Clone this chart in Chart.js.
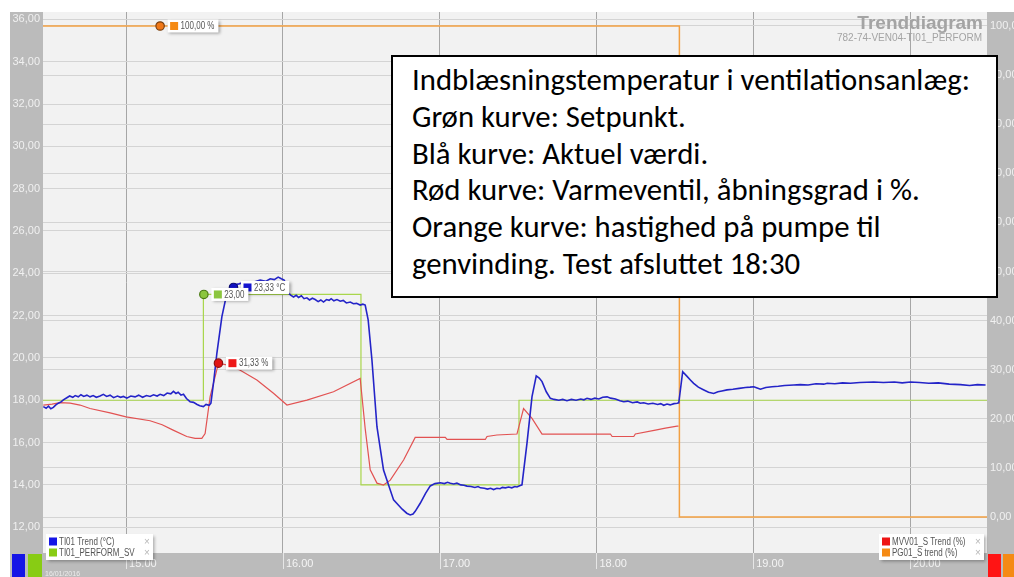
<!DOCTYPE html>
<html>
<head>
<meta charset="utf-8">
<title>Trenddiagram</title>
<script src="https://cdn.jsdelivr.net/npm/chart.js@4.4.1/dist/chart.umd.min.js"></script>
<style>
  html, body { margin: 0; padding: 0; background: #fff; }
  #wrap { position: relative; width: 1014px; height: 577px; }
  #note {
    position: absolute; left: 391px; top: 55px; width: 607px; height: 243px;
    box-sizing: border-box; border: 2px solid #000; background: #fff; color: #000;
    font-family: "Carlito", "Open Sans", sans-serif; line-height: 36.8px;
    padding: 5px 0 0 19px; white-space: nowrap;
  }
</style>
</head>
<body>
<div id="wrap">
  <canvas id="trend" width="1014" height="577"></canvas>
  <div id="note"></div>
</div>
<script>
// axis ticks
const timeTicks = [15, 16, 17, 18, 19, 20];
const tempTicks = [12, 14, 16, 18, 20, 22, 24, 26, 28, 30, 32, 34, 36];
const pctTicks = [0, 10, 20, 30, 40, 50, 60, 70, 80, 90, 100];

// TI01 Trend (°C) - actual supply temperature (hours, °C)
const tempTimes = [14.472, 14.490, 14.505, 14.520, 14.536, 14.552, 14.568, 14.585, 14.600, 14.622,
  14.640, 14.660, 14.675, 14.695, 14.712, 14.730, 14.750, 14.770, 14.790, 14.810,
  14.834, 14.855, 14.876, 14.898, 14.920, 14.945, 14.965, 14.983, 15.005, 15.030,
  15.057, 15.080, 15.105, 15.130, 15.153, 15.175, 15.198, 15.217, 15.240, 15.262,
  15.285, 15.302, 15.318, 15.332, 15.350, 15.366, 15.385, 15.408, 15.430, 15.453,
  15.470, 15.493, 15.510, 15.530, 15.541, 15.559, 15.579, 15.611, 15.643, 15.685,
  15.720, 15.759, 15.800, 15.855, 15.890, 15.919, 15.945, 15.970, 15.990, 16.008,
  16.020, 16.036, 16.052, 16.068, 16.085, 16.100, 16.118, 16.135, 16.153, 16.170,
  16.188, 16.206, 16.225, 16.242, 16.259, 16.278, 16.295, 16.308, 16.325, 16.345,
  16.366, 16.385, 16.405, 16.430, 16.450, 16.470, 16.493, 16.510, 16.525, 16.544,
  16.568, 16.600, 16.642, 16.706, 16.761, 16.790, 16.812, 16.830, 16.844, 16.876,
  16.910, 16.940, 16.970, 17.004, 17.030, 17.050, 17.068, 17.090, 17.110, 17.135,
  17.155, 17.174, 17.200, 17.225, 17.245, 17.260, 17.285, 17.305, 17.325, 17.344,
  17.365, 17.385, 17.400, 17.419, 17.440, 17.460, 17.480, 17.493, 17.510, 17.525,
  17.557, 17.589, 17.616, 17.635, 17.653, 17.680, 17.706, 17.730, 17.760, 17.785,
  17.812, 17.840, 17.870, 17.900, 17.920, 17.940, 17.965, 17.990, 18.015, 18.040,
  18.068, 18.090, 18.121, 18.150, 18.174, 18.200, 18.230, 18.260, 18.280, 18.301,
  18.330, 18.360, 18.390, 18.410, 18.429, 18.450, 18.470, 18.495, 18.515, 18.525,
  18.550, 18.575, 18.599, 18.620, 18.650, 18.682, 18.715, 18.748, 18.775, 18.800,
  18.833, 18.870, 18.910, 18.950, 18.980, 19.004, 19.025, 19.046, 19.080, 19.120,
  19.160, 19.200, 19.258, 19.300, 19.350, 19.400, 19.450, 19.472, 19.520, 19.570,
  19.620, 19.680, 19.769, 19.830, 19.900, 19.950, 20.003, 20.060, 20.120, 20.180,
  20.250, 20.322, 20.380, 20.430, 20.482];
const tempValues = [17.70, 17.62, 17.72, 17.60, 17.66, 17.78, 17.86, 17.92, 18.02, 18.12,
  18.20, 18.14, 18.22, 18.16, 18.26, 18.18, 18.24, 18.16, 18.22, 18.14,
  18.20, 18.28, 18.18, 18.24, 18.12, 18.20, 18.14, 18.18, 18.10, 18.20,
  18.16, 18.24, 18.14, 18.22, 18.18, 18.26, 18.20, 18.28, 18.22, 18.34,
  18.30, 18.42, 18.32, 18.38, 18.24, 18.28, 18.08, 17.93, 17.90, 17.80,
  17.74, 17.70, 17.80, 17.76, 17.86, 18.90, 20.22, 21.95, 23.06, 23.45,
  23.50, 23.58, 23.55, 23.68, 23.62, 23.74, 23.70, 23.82, 23.74, 23.68,
  23.50, 23.06, 22.96, 22.88, 22.96, 22.86, 22.94, 22.80, 22.84, 22.74,
  22.82, 22.76, 22.66, 22.74, 22.64, 22.76, 22.72, 22.80, 22.70, 22.76,
  22.68, 22.72, 22.60, 22.64, 22.56, 22.58, 22.50, 22.54, 22.50, 21.80,
  19.90, 16.75, 14.70, 13.29, 12.85, 12.66, 12.58, 12.62, 12.75, 13.13,
  13.60, 13.95, 14.06, 14.10, 14.06, 14.12, 14.08, 14.04, 14.08, 14.00,
  13.98, 13.94, 13.92, 13.88, 13.92, 13.86, 13.84, 13.80, 13.84, 13.78,
  13.84, 13.82, 13.88, 13.86, 13.90, 13.86, 13.92, 13.90, 13.96, 14.00,
  15.97, 18.17, 19.15, 19.05, 18.88, 18.40, 18.09, 18.04, 18.00, 18.04,
  17.98, 18.04, 18.00, 18.06, 18.02, 18.09, 18.04, 18.10, 18.06, 18.14,
  18.16, 18.10, 18.06, 17.98, 17.93, 17.96, 17.88, 17.92, 17.86, 17.88,
  17.82, 17.86, 17.80, 17.84, 17.76, 17.82, 17.78, 17.84, 17.86, 17.88,
  19.35, 19.15, 18.96, 18.80, 18.62, 18.50, 18.38, 18.32, 18.40, 18.44,
  18.49, 18.52, 18.56, 18.60, 18.62, 18.64, 18.58, 18.52, 18.60, 18.64,
  18.66, 18.70, 18.72, 18.74, 18.72, 18.78, 18.76, 18.80, 18.78, 18.82,
  18.80, 18.84, 18.86, 18.84, 18.86, 18.82, 18.86, 18.84, 18.80, 18.82,
  18.76, 18.74, 18.70, 18.74, 18.72];

// TI01_PERFORM_SV (°C) - setpoint
const setTimes = [14.47, 15.493, 15.493, 16.498, 16.498, 17.506, 17.506, 20.491];
const setValues = [18, 18, 23, 23, 14, 14, 18, 18];

// MVV01_S Trend (%) - heating valve opening
const valveTimes = [14.472, 14.528, 14.579, 14.643, 14.706, 14.770, 14.898, 15.000, 15.153, 15.230,
  15.300, 15.387, 15.440, 15.483, 15.504, 15.536, 15.589, 15.643, 15.728, 15.834,
  15.940, 16.026, 16.153, 16.323, 16.493, 16.525, 16.557, 16.600, 16.642, 16.685,
  16.770, 16.844, 17.036, 17.047, 17.291, 17.302, 17.365, 17.493, 17.535, 17.589,
  17.653, 18.089, 18.100, 18.238, 18.248, 18.376, 18.440, 18.514, 18.523];
const valveValues = [22.8, 23.0, 23.3, 23.2, 22.8, 22.1, 21.2, 20.4, 19.6, 18.8,
  17.7, 16.4, 16.0, 16.0, 17.0, 24.5, 31.3, 31.0, 29.9, 27.9,
  25.2, 22.8, 23.8, 25.5, 28.2, 18.0, 9.6, 6.9, 6.5, 7.5,
  11.6, 16.2, 16.2, 15.8, 15.8, 16.4, 16.7, 16.9, 22.1, 20.1,
  16.9, 16.9, 16.4, 16.4, 16.9, 17.7, 18.1, 18.5, 18.5];

// PG01_S trend (%) - pump speed
const pumpTimes = [14.47, 18.529, 18.529, 20.491];
const pumpValues = [100, 100, 0, 0];

// cursor markers: pump, setpoint, actual, valve
const markerTimes = [15.217, 15.496, 15.685, 15.589];
const markerValues = [100, 23, 23.33, 31.33];
const markerLabels = ['100,00 %', '23,00', '23,33 °C', '31,33 %'];

const noteLines = [
  'Indblæsningstemperatur i ventilationsanlæg:',
  'Grøn kurve: Setpunkt.',
  'Blå kurve: Aktuel værdi.',
  'Rød kurve: Varmeventil, åbningsgrad i %.',
  'Orange kurve: hastighed på pumpe til',
  'genvinding. Test afsluttet 18:30'
];

const BLUE = '#2424c8', GREEN = '#a9d64c', RED = '#e25252', ORANGE = '#f2a042';
const UI_FONT = '"Liberation Sans", Arial, sans-serif';

function pts(xs, ys) {
  return xs.map((x, i) => ({ x: x, y: ys[i] }));
}
function comma(v) {
  return v.toFixed(2).replace('.', ',');
}

// note box, sized to the original text width
const note = document.getElementById('note');
note.innerHTML = noteLines.map(l => '<div>' + l + '</div>').join('');
const mctx = document.createElement('canvas').getContext('2d');
mctx.font = '100px "Carlito", "Open Sans", sans-serif';
note.style.fontSize = (100 * 558 / mctx.measureText(noteLines[0]).width).toFixed(2) + 'px';

function squeezeText(ctx, text, x, y, ratio) {
  ctx.fillText(text, x, y, ctx.measureText(text).width * ratio);
}

function tag(ctx, x, y, color, text) {
  ctx.save();
  ctx.font = '10px ' + UI_FONT;
  const tw = ctx.measureText(text).width * 0.8;
  const w = 2.5 + 8 + 2.5 + tw + 4;
  ctx.shadowColor = 'rgba(0,0,0,0.35)';
  ctx.shadowBlur = 3;
  ctx.shadowOffsetX = 1.5;
  ctx.shadowOffsetY = 1.5;
  ctx.fillStyle = '#fff';
  ctx.fillRect(x, y - 6.5, w, 13);
  ctx.shadowColor = 'transparent';
  ctx.fillStyle = color;
  ctx.fillRect(x + 2.5, y - 4, 8, 8);
  ctx.fillStyle = '#555';
  ctx.textBaseline = 'middle';
  squeezeText(ctx, text, x + 13, y + 0.5, 0.8);
  ctx.restore();
}

function legendBox(ctx, x, y, w, rows) {
  ctx.save();
  ctx.shadowColor = 'rgba(0,0,0,0.3)';
  ctx.shadowBlur = 3;
  ctx.shadowOffsetX = 1.5;
  ctx.shadowOffsetY = 1.5;
  ctx.fillStyle = '#fff';
  ctx.fillRect(x, y, w, 26);
  ctx.shadowColor = 'transparent';
  ctx.font = '10px ' + UI_FONT;
  ctx.textBaseline = 'middle';
  rows.forEach((r, i) => {
    const cy = y + 7.5 + i * 11;
    ctx.fillStyle = r[0];
    ctx.fillRect(x + 3, cy - 4, 8, 8);
    ctx.fillStyle = '#555';
    squeezeText(ctx, r[1], x + 13, cy + 0.5, 0.8);
    ctx.fillStyle = '#b8b8b8';
    ctx.fillText('×', x + w - 9, cy + 0.5);
  });
  ctx.restore();
}

const frame = {
  id: 'frame',
  beforeDraw(chart) {
    const { ctx, chartArea: a, width, height } = chart;
    ctx.save();
    ctx.fillStyle = '#fff';
    ctx.fillRect(0, 0, width, height);
    ctx.fillStyle = '#bbbbbb';
    ctx.fillRect(10, 12, width - 10, height - 12);
    ctx.fillStyle = '#f2f2f2';
    ctx.fillRect(a.left, a.top, a.right - a.left, a.bottom - a.top);
    ctx.restore();
  },
  afterDatasetsDraw(chart) {
    const { ctx, scales } = chart;
    const axes = ['yP', 'yT', 'yT', 'yP'];
    const colors = ['#f58a14', '#8cc63f', '#1414d0', '#ee1818'];
    [0, 3, 2, 1].forEach(i => {
      const x = scales.x.getPixelForValue(markerTimes[i]);
      const y = scales[axes[i]].getPixelForValue(markerValues[i]);
      tag(ctx, x + 7.5, y, colors[i], markerLabels[i]);
    });
  },
  afterDraw(chart) {
    const { ctx, scales, chartArea: a, height } = chart;
    ctx.save();
    // x tick marks in the time band
    ctx.strokeStyle = '#e6e6e6';
    ctx.lineWidth = 1;
    timeTicks.forEach(t => {
      const x = Math.round(scales.x.getPixelForValue(t)) + 0.5;
      ctx.beginPath();
      ctx.moveTo(x, a.bottom);
      ctx.lineTo(x, a.bottom + 16);
      ctx.stroke();
    });
    // date
    ctx.fillStyle = '#ececec';
    ctx.font = '7px ' + UI_FONT;
    ctx.fillText('16/01/2016', 45, 576);
    // series colour bars
    ctx.fillStyle = '#1414e6'; ctx.fillRect(12, a.bottom + 1, 13, height - a.bottom);
    ctx.fillStyle = '#88cc14'; ctx.fillRect(28, a.bottom + 1, 14, height - a.bottom);
    ctx.fillStyle = '#ff1414'; ctx.fillRect(988, a.bottom + 1, 13, height - a.bottom);
    ctx.fillStyle = '#f58a14'; ctx.fillRect(1003, a.bottom + 1, 11, height - a.bottom);
    // title
    ctx.fillStyle = '#a4a4a4';
    ctx.textAlign = 'right';
    ctx.font = 'bold 19px ' + UI_FONT;
    ctx.fillText('Trenddiagram', 983, 29, 133);
    ctx.font = '10px ' + UI_FONT;
    ctx.fillText('782-74-VEN04-TI01_PERFORM', 982, 41, 147);
    ctx.restore();
    legendBox(ctx, 46, 534, 107, [['#1414e6', 'TI01 Trend (°C)'], ['#88cc14', 'TI01_PERFORM_SV']]);
    legendBox(ctx, 879, 534, 105, [['#ee1414', 'MVV01_S Trend (%)'], ['#f58a14', 'PG01_S trend (%)']]);
  }
};

const markerStyle = (i, axis, fill, edge) => ({
  type: 'scatter',
  data: [{ x: markerTimes[i], y: markerValues[i] }],
  yAxisID: axis,
  order: -1,
  pointRadius: 4.2,
  pointBackgroundColor: fill,
  pointBorderColor: edge,
  pointBorderWidth: 1.2
});

new Chart(document.getElementById('trend'), {
  type: 'line',
  data: {
    datasets: [
      { label: 'TI01 Trend (°C)', data: pts(tempTimes, tempValues), yAxisID: 'yT',
        borderColor: BLUE, borderWidth: 1.6, pointRadius: 0, tension: 0 },
      { label: 'MVV01_S Trend (%)', data: pts(valveTimes, valveValues), yAxisID: 'yP',
        borderColor: RED, borderWidth: 1.2, pointRadius: 0, tension: 0 },
      { label: 'TI01_PERFORM_SV', data: pts(setTimes, setValues), yAxisID: 'yT',
        borderColor: GREEN, borderWidth: 1.2, pointRadius: 0, tension: 0 },
      { label: 'PG01_S trend (%)', data: pts(pumpTimes, pumpValues), yAxisID: 'yP',
        borderColor: ORANGE, borderWidth: 1.5, pointRadius: 0, tension: 0 },
      markerStyle(0, 'yP', '#f07818', '#7a4010'),
      markerStyle(3, 'yP', '#e01414', '#8a1010'),
      markerStyle(2, 'yT', '#1010c0', '#0a0a70'),
      markerStyle(1, 'yT', '#8cc63f', '#4a7a12')
    ]
  },
  options: {
    responsive: false,
    animation: false,
    parsing: false,
    layout: { padding: { left: 10, top: 12, right: 0, bottom: 0 } },
    plugins: { legend: { display: false }, tooltip: { enabled: false } },
    scales: {
      x: {
        type: 'linear', min: 14.47, max: 20.491,
        afterBuildTicks: s => { s.ticks = timeTicks.map(v => ({ value: v })); },
        afterFit: s => { s.height = 24; },
        grid: { color: '#a6a6a6', drawTicks: false },
        border: { display: false },
        ticks: {
          color: '#f4f4f4', font: { family: UI_FONT, size: 11 }, padding: 4,
          align: 'start', labelOffset: 3, maxRotation: 0, autoSkip: false,
          callback: v => v.toFixed(2)
        }
      },
      yT: {
        type: 'linear', position: 'left', min: 10.78, max: 36.35,
        afterBuildTicks: s => { s.ticks = tempTicks.map(v => ({ value: v })); },
        afterFit: s => { s.width = 33; },
        grid: { color: '#d4d4d4', drawTicks: false },
        border: { display: false },
        ticks: { color: '#f0f0f0', font: { family: UI_FONT, size: 11 }, padding: 3, callback: v => comma(v) }
      },
      yP: {
        type: 'linear', position: 'right', min: -7.33, max: 102.85,
        afterBuildTicks: s => { s.ticks = pctTicks.map(v => ({ value: v })); },
        afterFit: s => { s.width = 27; },
        grid: { color: '#d4d4d4', drawTicks: false },
        border: { display: false },
        ticks: { color: '#f0f0f0', font: { family: UI_FONT, size: 11 }, padding: 3, callback: v => comma(v) }
      }
    }
  },
  plugins: [frame]
});
</script>
</body>
</html>
